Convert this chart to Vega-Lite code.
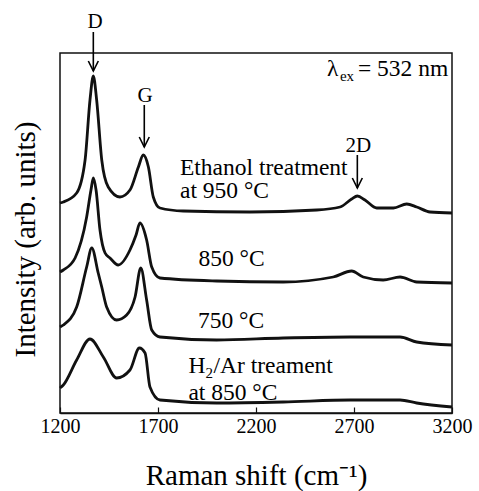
{
  "$schema": "https://vega.github.io/schema/vega-lite/v6.json",
  "width": 392,
  "height": 360,
  "autosize": {"type": "none"},
  "padding": {"left": 60, "top": 53, "right": 27, "bottom": 78},
  "background": "white",
  "config": {"view": {"stroke": "#111", "strokeWidth": 1.5}, "font": "Liberation Serif, Times New Roman, serif"},
  "layer": [
    {
      "data": {"values": [
        {"sample": "Ethanol 950", "shift": 1200, "intensity": 210},
        {"sample": "Ethanol 950", "shift": 1217, "intensity": 211},
        {"sample": "Ethanol 950", "shift": 1285, "intensity": 220},
        {"sample": "Ethanol 950", "shift": 1328, "intensity": 253},
        {"sample": "Ethanol 950", "shift": 1353, "intensity": 313},
        {"sample": "Ethanol 950", "shift": 1370, "intensity": 337},
        {"sample": "Ethanol 950", "shift": 1387, "intensity": 313},
        {"sample": "Ethanol 950", "shift": 1413, "intensity": 253},
        {"sample": "Ethanol 950", "shift": 1446, "intensity": 226},
        {"sample": "Ethanol 950", "shift": 1506, "intensity": 216},
        {"sample": "Ethanol 950", "shift": 1557, "intensity": 223},
        {"sample": "Ethanol 950", "shift": 1600, "intensity": 246},
        {"sample": "Ethanol 950", "shift": 1625, "intensity": 258},
        {"sample": "Ethanol 950", "shift": 1651, "intensity": 246},
        {"sample": "Ethanol 950", "shift": 1676, "intensity": 216},
        {"sample": "Ethanol 950", "shift": 1710, "intensity": 205},
        {"sample": "Ethanol 950", "shift": 1829, "intensity": 202},
        {"sample": "Ethanol 950", "shift": 2169, "intensity": 201},
        {"sample": "Ethanol 950", "shift": 2510, "intensity": 203},
        {"sample": "Ethanol 950", "shift": 2629, "intensity": 206},
        {"sample": "Ethanol 950", "shift": 2688, "intensity": 214},
        {"sample": "Ethanol 950", "shift": 2717, "intensity": 217},
        {"sample": "Ethanol 950", "shift": 2756, "intensity": 213},
        {"sample": "Ethanol 950", "shift": 2816, "intensity": 205},
        {"sample": "Ethanol 950", "shift": 2901, "intensity": 205},
        {"sample": "Ethanol 950", "shift": 2969, "intensity": 209},
        {"sample": "Ethanol 950", "shift": 3020, "intensity": 206},
        {"sample": "Ethanol 950", "shift": 3088, "intensity": 201},
        {"sample": "Ethanol 950", "shift": 3200, "intensity": 200},

        {"sample": "850", "shift": 1200, "intensity": 141},
        {"sample": "850", "shift": 1217, "intensity": 143},
        {"sample": "850", "shift": 1277, "intensity": 155},
        {"sample": "850", "shift": 1336, "intensity": 196},
        {"sample": "850", "shift": 1358, "intensity": 223},
        {"sample": "850", "shift": 1370, "intensity": 235},
        {"sample": "850", "shift": 1384, "intensity": 223},
        {"sample": "850", "shift": 1404, "intensity": 183},
        {"sample": "850", "shift": 1430, "intensity": 160},
        {"sample": "850", "shift": 1455, "intensity": 155},
        {"sample": "850", "shift": 1497, "intensity": 148},
        {"sample": "850", "shift": 1557, "intensity": 163},
        {"sample": "850", "shift": 1588, "intensity": 178},
        {"sample": "850", "shift": 1608, "intensity": 190},
        {"sample": "850", "shift": 1642, "intensity": 173},
        {"sample": "850", "shift": 1668, "intensity": 146},
        {"sample": "850", "shift": 1710, "intensity": 135},
        {"sample": "850", "shift": 1999, "intensity": 132},
        {"sample": "850", "shift": 2339, "intensity": 131},
        {"sample": "850", "shift": 2594, "intensity": 136},
        {"sample": "850", "shift": 2688, "intensity": 142},
        {"sample": "850", "shift": 2747, "intensity": 136},
        {"sample": "850", "shift": 2849, "intensity": 133},
        {"sample": "850", "shift": 2935, "intensity": 136},
        {"sample": "850", "shift": 3020, "intensity": 131},
        {"sample": "850", "shift": 3200, "intensity": 130},

        {"sample": "750", "shift": 1200, "intensity": 86},
        {"sample": "750", "shift": 1217, "intensity": 88},
        {"sample": "750", "shift": 1285, "intensity": 106},
        {"sample": "750", "shift": 1336, "intensity": 146},
        {"sample": "750", "shift": 1362, "intensity": 165},
        {"sample": "750", "shift": 1395, "intensity": 140},
        {"sample": "750", "shift": 1413, "intensity": 126},
        {"sample": "750", "shift": 1438, "intensity": 106},
        {"sample": "750", "shift": 1489, "intensity": 93},
        {"sample": "750", "shift": 1540, "intensity": 98},
        {"sample": "750", "shift": 1583, "intensity": 116},
        {"sample": "750", "shift": 1612, "intensity": 145},
        {"sample": "750", "shift": 1642, "intensity": 113},
        {"sample": "750", "shift": 1668, "intensity": 83},
        {"sample": "750", "shift": 1710, "intensity": 76},
        {"sample": "750", "shift": 1999, "intensity": 73},
        {"sample": "750", "shift": 2339, "intensity": 75},
        {"sample": "750", "shift": 2680, "intensity": 76},
        {"sample": "750", "shift": 2935, "intensity": 76},
        {"sample": "750", "shift": 3020, "intensity": 71},
        {"sample": "750", "shift": 3200, "intensity": 68},

        {"sample": "H2/Ar 850", "shift": 1200, "intensity": 25},
        {"sample": "H2/Ar 850", "shift": 1217, "intensity": 28},
        {"sample": "H2/Ar 850", "shift": 1285, "intensity": 53},
        {"sample": "H2/Ar 850", "shift": 1353, "intensity": 74},
        {"sample": "H2/Ar 850", "shift": 1421, "intensity": 56},
        {"sample": "H2/Ar 850", "shift": 1489, "intensity": 35},
        {"sample": "H2/Ar 850", "shift": 1557, "intensity": 43},
        {"sample": "H2/Ar 850", "shift": 1605, "intensity": 65},
        {"sample": "H2/Ar 850", "shift": 1634, "intensity": 60},
        {"sample": "H2/Ar 850", "shift": 1659, "intensity": 26},
        {"sample": "H2/Ar 850", "shift": 1710, "intensity": 13},
        {"sample": "H2/Ar 850", "shift": 1999, "intensity": 10},
        {"sample": "H2/Ar 850", "shift": 2339, "intensity": 11},
        {"sample": "H2/Ar 850", "shift": 2680, "intensity": 13},
        {"sample": "H2/Ar 850", "shift": 2935, "intensity": 13},
        {"sample": "H2/Ar 850", "shift": 3020, "intensity": 10},
        {"sample": "H2/Ar 850", "shift": 3200, "intensity": 6}
      ]},
      "mark": {"type": "line", "color": "#111", "strokeWidth": 2.8, "interpolate": "monotone"},
      "encoding": {
        "x": {
          "field": "shift", "type": "quantitative",
          "scale": {"domain": [1200, 3200], "nice": false, "zero": false},
          "axis": {
            "title": "Raman shift (cm⁻¹)",
            "values": [1200, 1700, 2200, 2700, 3200],
            "format": "d",
            "grid": false,
            "tickSize": -6, "tickColor": "#111", "tickWidth": 1.2,
            "domainColor": "#111", "domainWidth": 1.5,
            "labelFontSize": 20, "labelColor": "#000", "labelFont": "Liberation Serif, Times New Roman, serif",
            "labelBaseline": "alphabetic", "labelPadding": 25,
            "labelFlush": false, "labelOverlap": false,
            "titleFontSize": 29, "titleFont": "Liberation Serif, Times New Roman, serif", "titleFontWeight": "normal",
            "titleColor": "#000", "titleBaseline": "alphabetic", "titleY": 71
          }
        },
        "y": {
          "field": "intensity", "type": "quantitative",
          "scale": {"domain": [0, 360], "nice": false, "zero": false},
          "axis": {
            "title": "Intensity (arb. units)",
            "labels": false, "ticks": false, "domain": false, "grid": false,
            "titleFontSize": 29, "titleFont": "Liberation Serif, Times New Roman, serif", "titleFontWeight": "normal",
            "titleColor": "#000", "titleBaseline": "alphabetic", "titleX": -26, "titleY": 186
          }
        },
        "detail": {"field": "sample", "type": "nominal"}
      }
    },
    {
      "data": {"values": [
        {"label": "Ethanol treatment", "shift": 1812, "intensity": 238},
        {"label": "at 950 °C", "shift": 1812, "intensity": 215},
        {"label": "850 °C", "shift": 1906, "intensity": 147},
        {"label": "750 °C", "shift": 1904, "intensity": 85},
        {"label": "H", "shift": 1855, "intensity": 40},
        {"label": "/Ar treament", "shift": 1983, "intensity": 40},
        {"label": "at 850 °C", "shift": 1855, "intensity": 13},
        {"label": "λ", "shift": 2562, "intensity": 337},
        {"label": "= 532 nm", "shift": 2720, "intensity": 337}
      ]},
      "mark": {"type": "text", "align": "left", "baseline": "alphabetic", "fontSize": 23.5, "font": "Liberation Serif, Times New Roman, serif", "color": "#000"},
      "encoding": {
        "x": {"field": "shift", "type": "quantitative"},
        "y": {"field": "intensity", "type": "quantitative"},
        "text": {"field": "label"}
      }
    },
    {
      "data": {"values": [
        {"label": "2", "shift": 1942, "intensity": 35},
        {"label": "ex", "shift": 2628, "intensity": 332}
      ]},
      "mark": {"type": "text", "align": "left", "baseline": "alphabetic", "fontSize": 15, "font": "Liberation Serif, Times New Roman, serif", "color": "#000"},
      "encoding": {
        "x": {"field": "shift", "type": "quantitative"},
        "y": {"field": "intensity", "type": "quantitative"},
        "text": {"field": "label"}
      }
    },
    {
      "data": {"values": [
        {"label": "D", "shift": 1379, "intensity": 385},
        {"label": "G", "shift": 1634, "intensity": 311},
        {"label": "2D", "shift": 2722, "intensity": 261}
      ]},
      "mark": {"type": "text", "align": "center", "baseline": "alphabetic", "fontSize": 21, "font": "Liberation Serif, Times New Roman, serif", "color": "#000"},
      "encoding": {
        "x": {"field": "shift", "type": "quantitative"},
        "y": {"field": "intensity", "type": "quantitative"},
        "text": {"field": "label"}
      }
    },
    {
      "data": {"values": [
        {"peak": "D", "shift": 1370, "top": 381, "tip": 342},
        {"peak": "G", "shift": 1630, "top": 308, "tip": 266},
        {"peak": "2D", "shift": 2717, "top": 258, "tip": 225}
      ]},
      "layer": [
        {
          "mark": {"type": "rule", "color": "#000", "strokeWidth": 1.6},
          "encoding": {
            "x": {"field": "shift", "type": "quantitative"},
            "y": {"field": "top", "type": "quantitative"},
            "y2": {"field": "tip"}
          }
        },
        {
          "mark": {"type": "point", "shape": "M-1,-2L0,0L1,-2", "size": 100, "filled": false, "color": "#000", "strokeWidth": 1.6, "opacity": 1},
          "encoding": {
            "x": {"field": "shift", "type": "quantitative"},
            "y": {"field": "tip", "type": "quantitative"}
          }
        }
      ]
    }
  ]
}
